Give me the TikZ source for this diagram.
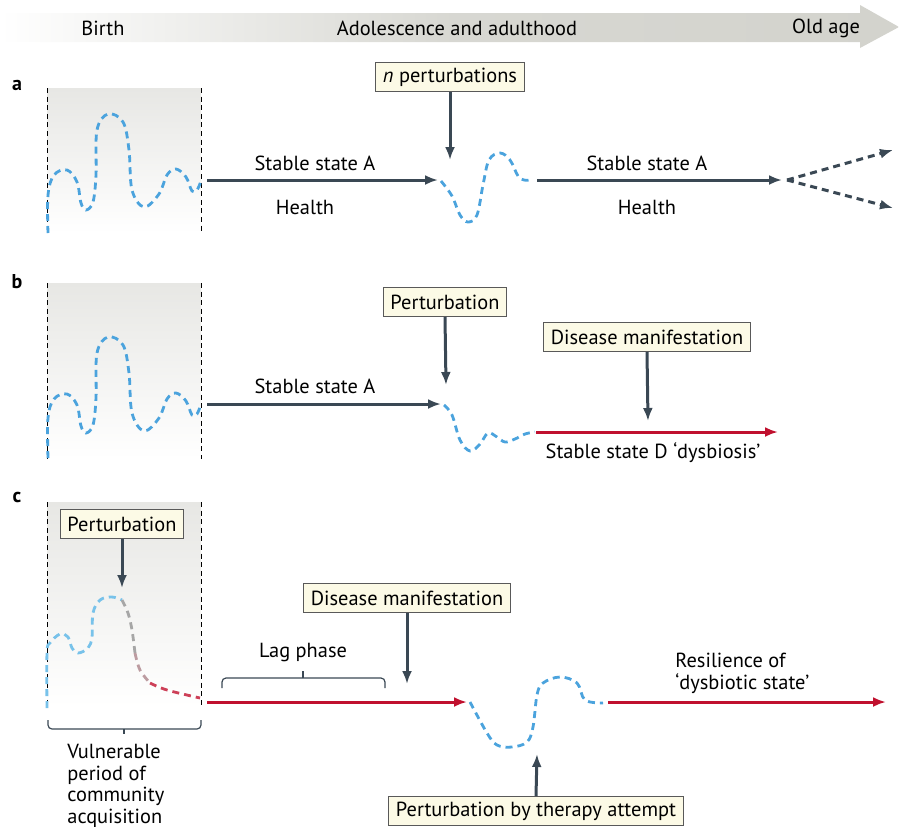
\documentclass[tikz,border=0pt]{standalone}
\usepackage{fontspec}
\setmainfont{PT Sans}
\usepackage{tikz}
\usetikzlibrary{arrows.meta, positioning}

\definecolor{slate}{HTML}{3A4854}
\definecolor{wave}{HTML}{4BA3DD}
\definecolor{lightwave}{HTML}{78C2EA}
\definecolor{disease}{HTML}{C0102E}
\definecolor{cream}{HTML}{FCFAE6}
\definecolor{band}{HTML}{D3D3CD}
\definecolor{boxtop}{HTML}{E7E7E4}

\tikzset{
  darrow/.style={-{Latex[length=6.5pt,width=5pt]}, slate, line width=1.5pt},
  redarrow/.style={-{Latex[length=6.5pt,width=5pt]}, disease, line width=1.5pt},
  wavy/.style={wave, line width=1.4pt, dash pattern=on 3.5pt off 2.5pt},
  sideline/.style={black, line width=0.4pt, dash pattern=on 2.5pt off 1.8pt},
  txt/.style={font=\fontsize{10.2}{10.75}\selectfont, inner sep=0pt},
  labelbox/.style={draw=black!65, fill=cream, line width=0.5pt, inner xsep=3.5pt,
    inner ysep=0pt, minimum height=14.5pt, font=\fontsize{10.2}{11}\selectfont},
  panel/.style={font=\fontsize{10}{12}\selectfont\bfseries, inner sep=0pt},
}

\begin{document}
\begin{tikzpicture}[x=0.5pt, y=-0.5pt]
    \useasboundingbox (0,0) rectangle (899,826);

    % 1. Thanh thời gian phía trên
    \shade[left color=white, right color=band, middle color=band!90]
        (0,13) -- (860,13) -- (860,5) -- (899,27) -- (860,48) -- (860,42) -- (0,42) -- cycle;
    \node[txt] (birth) at (103,28) {Birth};
    \node[txt] (adult) at (457,28) {Adolescence and adulthood};
    \node[txt] (old) at (826,28) {Old age};

    % 2. Panel a
    \node[panel] (pa) at (17,85) {a};
    \shade[top color=boxtop, middle color=boxtop!45, bottom color=white] (47,88) rectangle (201,233);
    \draw[sideline] (47,88) -- (47,233);
    \draw[sideline] (201,88) -- (201,233);
    \draw[wavy] plot[smooth, tension=0.6] coordinates {(48,233) (48,195) (54,175) (67,170)
        (77,182) (81,203) (86,210) (93,202) (96,175) (97,130) (108,114) (123,122) (129,150)
        (132,190) (144,207) (159,194) (167,175) (176,169) (186,177) (192,191) (197,190) (201,181)};
    \coordinate (a1) at (207,180);
    \coordinate (a2) at (438,180);
    \draw[darrow] (a1) -- (a2);
    \node[txt] (sa1) at (315,163) {Stable state A};
    \node[txt] (ha1) at (305,207) {Health};

    % sóng sau n nhiễu loạn
    \draw[wavy] plot[smooth, tension=0.6] coordinates {(441,181) (452,196) (460,215) (468,222)
        (477,215) (483,185) (489,160) (500,153) (510,160) (518,176) (524,180) (531,180)};
    \node[labelbox] (nbox) at (450,77) {\textit{n} perturbations};
    \coordinate (nhit) at (450,160);
    \draw[darrow] (nbox.south) -- (nhit);

    \coordinate (a3) at (537,180);
    \coordinate (a4) at (782,180);
    \draw[darrow] (a3) -- (a4);
    \node[txt] (sa2) at (647,163) {Stable state A};
    \node[txt] (ha2) at (647,207) {Health};

    % hai hướng nét đứt
    \coordinate (split) at (787,180);
    \coordinate (up) at (893,150);
    \coordinate (down) at (893,208);
    \draw[darrow, dash pattern=on 3.5pt off 2.5pt] (split) -- (up);
    \draw[darrow, dash pattern=on 3.5pt off 2.5pt] (split) -- (down);

    % 3. Panel b
    \node[panel] (pb) at (17,282) {b};
    \shade[top color=boxtop, middle color=boxtop!45, bottom color=white] (47,283) rectangle (201,459);
    \draw[sideline] (47,283) -- (47,459);
    \draw[sideline] (201,283) -- (201,459);
    \draw[wavy] plot[smooth, tension=0.6] coordinates {(48,458) (48,418) (54,399) (67,394)
        (77,405) (81,426) (86,433) (93,425) (96,398) (97,353) (108,337) (123,345) (129,373)
        (132,413) (144,431) (159,418) (167,399) (176,393) (186,401) (192,415) (197,414) (201,404)};
    \coordinate (b1) at (207,404);
    \coordinate (b2) at (441,404);
    \draw[darrow] (b1) -- (b2);
    \node[txt] (sb) at (315,386) {Stable state A};

    \draw[wavy] plot[smooth, tension=0.6] coordinates {(444,405) (452,415) (460,440) (470,451)
        (480,444) (488,433) (497,437) (505,442) (515,439) (525,434) (535,432)};
    \node[labelbox] (pert) at (445,302) {Perturbation};
    \coordinate (bhit) at (446,385);
    \draw[darrow] (pert.south) -- (bhit);

    \coordinate (b3) at (536,432);
    \coordinate (b4) at (778,432);
    \draw[redarrow] (b3) -- (b4);
    \node[txt] (sd) at (653,453) {Stable state D ‘dysbiosis’};
    \node[labelbox] (dis) at (647,337) {Disease manifestation};
    \coordinate (dhit) at (648,421);
    \draw[darrow] (dis.south) -- (dhit);

    % 4. Panel c
    \node[panel] (pc) at (17,497) {c};
    \shade[top color=boxtop, middle color=boxtop!45, bottom color=white] (47,502) rectangle (201,707);
    \draw[sideline] (47,502) -- (47,707);
    \draw[sideline] (201,502) -- (201,707);
    \draw[wavy, lightwave] plot[smooth, tension=0.6] coordinates {(47,708) (47,653) (50,643)
        (60,634) (68,637) (72,648) (78,653) (88,648) (92,637) (93,613) (100,600) (112,597) (122,600)};
    \draw[wavy, black!35] plot[smooth, tension=0.6] coordinates {(122,600) (128,613) (132,630) (135,653)};
    \draw[wavy, disease!45!black!40] plot[smooth, tension=0.6] coordinates {(135,653) (140,670) (150,683)};
    \draw[wavy, disease!80] plot[smooth, tension=0.6] coordinates {(150,683) (167,690) (200,698)};
    \node[labelbox] (pertc) at (122,524) {Perturbation};
    \coordinate (chit) at (122,588);
    \draw[darrow] (pertc.south) -- (chit);

    % khoảng dễ tổn thương
    \draw[slate, line width=0.6pt, rounded corners=2pt] (48,720) |- (201,729) -- (201,720);
    \draw[slate, line width=0.6pt] (124,729) -- (124,734);
    \node[txt, align=left, anchor=north west] (vuln) at (67,744)
        {Vulnerable\\period of\\community\\acquisition};

    \coordinate (c1) at (207,702);
    \coordinate (c2) at (467,702);
    \draw[redarrow] (c1) -- (c2);

    % pha trễ
    \draw[slate, line width=0.6pt, rounded corners=2pt] (222,688) |- (385,678) -- (385,688);
    \draw[slate, line width=0.6pt] (303,678) -- (303,671);
    \node[txt] (lag) at (303,653) {Lag phase};
    \node[labelbox] (disc) at (407,598) {Disease manifestation};
    \coordinate (dchit) at (407,684);
    \draw[darrow] (disc.south) -- (dchit);

    \draw[wavy] plot[smooth, tension=0.6] coordinates {(470,702) (487,733) (497,745) (512,747)
        (527,742) (533,727) (537,695) (543,683) (560,677) (577,683) (585,700) (603,703)};
    \coordinate (c3) at (608,702);
    \coordinate (c4) at (886,702);
    \draw[redarrow] (c3) -- (c4);
    \node[txt, align=left, anchor=north west] (resil) at (675,653)
        {Resilience of\\‘dysbiotic state’};

    \node[labelbox] (ther) at (536,811) {Perturbation by therapy attempt};
    \coordinate (thit) at (537,754);
    \draw[darrow] (ther.north) -- (thit);

\end{tikzpicture}
\end{document}
